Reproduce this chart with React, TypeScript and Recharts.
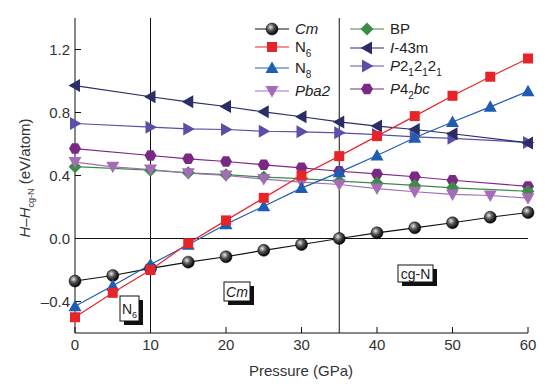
import React from 'react';
import { LineChart, Line, XAxis, YAxis, ReferenceLine } from 'recharts';

const pressure = [0, 5, 10, 15, 20, 25, 30, 35, 40, 45, 50, 55, 60];
const cm = [-0.27, -0.235, -0.19, -0.15, -0.116, -0.075, -0.038, 0, 0.036, 0.068, 0.1, 0.135, 0.165];
const n6 = [-0.5, -0.345, -0.2, -0.03, 0.115, 0.258, 0.4, 0.523, 0.65, 0.777, 0.906, 1.027, 1.143];
const n8 = [-0.43, -0.3, -0.165, -0.04, 0.09, 0.205, 0.32, 0.42, 0.527, 0.64, 0.74, 0.836, 0.935];
const pba2 = [0.485, 0.455, 0.438, 0.415, 0.4, 0.377, 0.358, 0.343, 0.317, 0.297, 0.28, 0.273, 0.256];
const bp = [0.456, null, 0.434, 0.417, 0.405, 0.39, 0.38, 0.364, 0.352, 0.337, 0.322, null, 0.3];
const i43m = [0.971, null, 0.9, 0.868, 0.838, 0.804, 0.773, 0.74, 0.714, 0.692, 0.665, null, 0.607];
const p212121 = [0.73, null, 0.707, 0.696, 0.692, 0.681, 0.677, 0.671, 0.66, 0.645, 0.636, null, 0.61];
const p42bc = [0.571, null, 0.527, 0.506, 0.489, 0.468, 0.449, 0.427, 0.41, 0.392, 0.37, null, 0.331];

const xTicks = [0, 10, 20, 30, 40, 50, 60];
const yTicks = [-0.4, 0, 0.4, 0.8, 1.2];

const data = pressure.map((p, i) => ({
  p,
  cm: cm[i],
  n6: n6[i],
  n8: n8[i],
  pba2: pba2[i],
  bp: bp[i],
  i43m: i43m[i],
  p212121: p212121[i],
  p42bc: p42bc[i],
}));

const FONT = '"Liberation Sans", Arial, sans-serif';

type Shape = 'sphere' | 'square' | 'up' | 'down' | 'diamond' | 'left' | 'right' | 'hex';

function marker(shape: Shape, cx: number, cy: number, color: string, key?: string) {
  switch (shape) {
    case 'sphere':
      return <circle key={key} cx={cx} cy={cy} r={6} fill="url(#sphereGrad)" stroke="#000" strokeWidth={0.5} />;
    case 'square':
      return <rect key={key} x={cx - 5} y={cy - 5} width={10} height={10} fill={color} />;
    case 'up':
      return <polygon key={key} points={`${cx},${cy - 6.5} ${cx + 6.5},${cy + 5} ${cx - 6.5},${cy + 5}`} fill={color} />;
    case 'down':
      return <polygon key={key} points={`${cx},${cy + 6.5} ${cx + 6.5},${cy - 5} ${cx - 6.5},${cy - 5}`} fill={color} />;
    case 'left':
      return <polygon key={key} points={`${cx - 6.5},${cy} ${cx + 5},${cy - 6.5} ${cx + 5},${cy + 6.5}`} fill={color} />;
    case 'right':
      return <polygon key={key} points={`${cx + 6.5},${cy} ${cx - 5},${cy - 6.5} ${cx - 5},${cy + 6.5}`} fill={color} />;
    case 'diamond':
      return <polygon key={key} points={`${cx},${cy - 6.5} ${cx + 6.5},${cy} ${cx},${cy + 6.5} ${cx - 6.5},${cy}`} fill={color} />;
    case 'hex': {
      const pts = [0, 1, 2, 3, 4, 5]
        .map((k) => {
          const a = (Math.PI / 3) * k;
          return `${cx + 6 * Math.cos(a)},${cy + 6 * Math.sin(a)}`;
        })
        .join(' ');
      return <polygon key={key} points={pts} fill={color} />;
    }
  }
}

const series: { key: string; color: string; shape: Shape }[] = [
  { key: 'p42bc', color: '#7a2a85', shape: 'hex' },
  { key: 'p212121', color: '#5b50a8', shape: 'right' },
  { key: 'i43m', color: '#2a2d66', shape: 'left' },
  { key: 'bp', color: '#3c8c48', shape: 'diamond' },
  { key: 'pba2', color: '#a56cb8', shape: 'down' },
  { key: 'cm', color: '#111111', shape: 'sphere' },
  { key: 'n8', color: '#1f5db3', shape: 'up' },
  { key: 'n6', color: '#e8242b', shape: 'square' },
];

const dotFor = (shape: Shape, color: string) => (props: any) => {
  const { cx, cy, index } = props;
  if (cx == null || cy == null || props.value == null) return <g key={`e-${index}`} />;
  return marker(shape, cx, cy, color, `d-${index}`);
};

const fmtY = (v: number) => (v < 0 ? '–' + Math.abs(v).toFixed(1) : v.toFixed(1));

const tickStyle = { fontFamily: FONT, fontSize: 15, fill: '#333' };

function LegendRow({ x, y, shape, color, children }: any) {
  return (
    <g>
      <line x1={x} y1={y} x2={x + 34} y2={y} stroke={color} strokeWidth={1.2} />
      {marker(shape, x + 17, y, color)}
      <text x={x + 40} y={y + 5} fontFamily={FONT} fontSize={15} fill="#222">
        {children}
      </text>
    </g>
  );
}

function Tag({ x, y, w, h, children }: any) {
  return (
    <g>
      <rect x={x + 4} y={y + 4} width={w} height={h} fill="#111" />
      <rect x={x} y={y} width={w} height={h} fill="#fff" stroke="#111" strokeWidth={1} />
      <text x={x + w / 2} y={y + h / 2 + 5} textAnchor="middle" fontFamily={FONT} fontSize={14} fill="#222">
        {children}
      </text>
    </g>
  );
}

export default function App() {
  return (
    <div style={{ position: 'absolute', left: 0, top: 0, width: 550, height: 384, background: '#fff' }}>
      <svg width={0} height={0} style={{ position: 'absolute' }}>
        <defs>
          <radialGradient id="sphereGrad" cx="38%" cy="35%" r="65%">
            <stop offset="0" stopColor="#e8e8e8" />
            <stop offset="0.45" stopColor="#555" />
            <stop offset="1" stopColor="#000" />
          </radialGradient>
        </defs>
      </svg>
      <LineChart width={550} height={384} data={data} margin={{ top: 18, right: 22, left: 15, bottom: 0 }}>
        <XAxis
          dataKey="p"
          type="number"
          domain={[0, 60]}
          ticks={xTicks}
          height={51}
          tickSize={-6}
          tickMargin={12}
          tick={tickStyle}
          stroke="#111"
          axisLine={{ stroke: '#111' }}
          tickLine={{ stroke: '#111' }}
        />
        <XAxis xAxisId="top" orientation="top" dataKey="p" type="number" domain={[0, 60]} height={0} tick={false} tickLine={false} axisLine={{ stroke: '#111' }} />
        <YAxis
          type="number"
          domain={[-0.6, 1.4]}
          ticks={yTicks}
          width={60}
          tickSize={-6}
          tickMargin={11}
          tickFormatter={fmtY}
          tick={tickStyle}
          axisLine={{ stroke: '#111' }}
          tickLine={{ stroke: '#111' }}
        />
        <YAxis yAxisId="right" orientation="right" type="number" domain={[-0.6, 1.4]} width={0} tick={false} tickLine={false} axisLine={{ stroke: '#111' }} />
        <ReferenceLine x={10} stroke="#111" strokeWidth={1} />
        <ReferenceLine x={35} stroke="#111" strokeWidth={1} />
        <ReferenceLine y={0} stroke="#111" strokeWidth={1} />
        {series.map((s) => (
          <Line
            key={s.key}
            dataKey={s.key}
            type="linear"
            stroke={s.color}
            strokeWidth={1.2}
            connectNulls
            dot={dotFor(s.shape, s.color)}
            activeDot={false}
            isAnimationActive={false}
          />
        ))}
      </LineChart>
      <svg width={550} height={384} style={{ position: 'absolute', left: 0, top: 0, pointerEvents: 'none' }}>
        {/* legend */}
        <LegendRow x={255} y={29} shape="sphere" color="#111">
          <tspan fontStyle="italic">Cm</tspan>
        </LegendRow>
        <LegendRow x={255} y={47} shape="square" color="#e8242b">
          N<tspan fontSize={10} dy={5}>6</tspan>
        </LegendRow>
        <LegendRow x={255} y={68} shape="up" color="#1f5db3">
          N<tspan fontSize={10} dy={5}>8</tspan>
        </LegendRow>
        <LegendRow x={255} y={91} shape="down" color="#a56cb8">
          <tspan fontStyle="italic">Pba2</tspan>
        </LegendRow>
        <LegendRow x={350} y={29} shape="diamond" color="#3c8c48">
          BP
        </LegendRow>
        <LegendRow x={350} y={48} shape="left" color="#2a2d66">
          <tspan fontStyle="italic">I</tspan>-43m
        </LegendRow>
        <LegendRow x={350} y={66} shape="right" color="#5b50a8">
          <tspan fontStyle="italic">P</tspan>2<tspan fontSize={10} dy={5}>1</tspan>
          <tspan dy={-5}>2</tspan><tspan fontSize={10} dy={5}>1</tspan>
          <tspan dy={-5}>2</tspan><tspan fontSize={10} dy={5}>1</tspan>
        </LegendRow>
        <LegendRow x={350} y={89} shape="hex" color="#7a2a85">
          <tspan fontStyle="italic">P</tspan>4<tspan fontSize={10} dy={5}>2</tspan>
          <tspan dy={-5} fontStyle="italic">bc</tspan>
        </LegendRow>

        {/* phase tags */}
        <Tag x={120} y={296} w={19} h={25}>
          N<tspan fontSize={9} dy={4}>6</tspan>
        </Tag>
        <Tag x={224} y={282} w={26} h={19}>
          <tspan fontStyle="italic">Cm</tspan>
        </Tag>
        <Tag x={398} y={265} w={35} h={17}>
          cg-N
        </Tag>

        {/* axis titles */}
        <text x={301} y={376} textAnchor="middle" fontFamily={FONT} fontSize={15} fill="#333">
          Pressure (GPa)
        </text>
        <text transform="translate(30,178) rotate(-90)" textAnchor="middle" fontFamily={FONT} fontSize={15} fill="#333">
          <tspan fontStyle="italic">H</tspan>–<tspan fontStyle="italic">H</tspan>
          <tspan fontSize={9} dy={4}>cg-N</tspan>
          <tspan dy={-4}> (eV/atom)</tspan>
        </text>
      </svg>
    </div>
  );
}
